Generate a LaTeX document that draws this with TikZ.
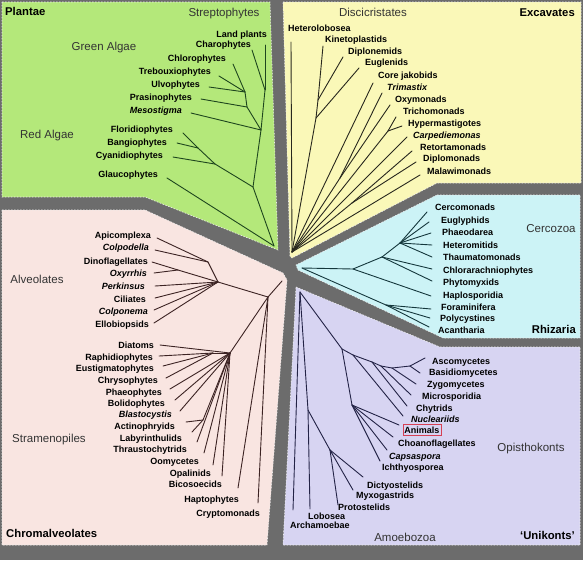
\documentclass[tikz,border=0pt]{standalone}
\usepackage{fontspec}
\setmainfont{Liberation Sans}
\usepackage{tikz}
\usetikzlibrary{positioning}

\definecolor{band}{RGB}{108,108,108}
\definecolor{plantae}{RGB}{180,232,122}
\definecolor{excav}{RGB}{250,248,184}
\definecolor{rhiz}{RGB}{204,243,246}
\definecolor{unik}{RGB}{215,212,242}
\definecolor{chrom}{RGB}{249,229,225}
\definecolor{plantline}{RGB}{30,70,30}
\definecolor{excavline}{RGB}{40,40,30}
\definecolor{rhizline}{RGB}{20,55,60}
\definecolor{unikline}{RGB}{35,35,70}
\definecolor{chromline}{RGB}{60,35,35}
\definecolor{animalred}{RGB}{214,64,84}

\begin{document}
\begin{tikzpicture}[x=1pt, y=-1pt,
	leaf/.style   = {inner sep=0pt, text height=6.5pt, text depth=0pt, font=\fontsize{9}{10}\selectfont\bfseries},
	group/.style  = {inner sep=0pt, text height=8pt, text depth=0pt, text=black!80, font=\fontsize{11.5}{13}\selectfont},
	title/.style  = {inner sep=0pt, text height=8pt, text depth=0pt, font=\fontsize{11.3}{13}\selectfont\bfseries},
	panel/.style  = {draw=white!85!gray, line width=0.6pt, dash pattern=on 1.5pt off 1.5pt},
	branch/.style = {line width=0.9pt, line cap=round, line join=round}]

	% background and the five panels
	\useasboundingbox (0,0) rectangle (583,560);
	\fill[band] (0,0) rectangle (583,560);
	\path[panel, fill=plantae] (2,2) -- (270,2) -- (278,250) -- (145,197) -- (2,197) -- cycle;
	\path[panel, fill=excav] (283,2) -- (581,2) -- (581,183) -- (437,183) -- (292,258) -- (290,256) -- cycle;
	\path[panel, fill=rhiz] (437,195) -- (580,195) -- (580,338) -- (443,338) -- (298,270) -- (296,265) -- cycle;
	\path[panel, fill=unik] (296,287) -- (440,347) -- (580,347) -- (580,545) -- (283,545) -- cycle;
	\path[panel, fill=chrom] (2,210) -- (145,210) -- (283,273) -- (287,280) -- (267,545) -- (2,545) -- cycle;

	% Plantae
	\node[title, anchor=west] (plantae) at (5,11) {Plantae};
	\node[group] (strepto) at (224,12) {Streptophytes};
	\node[group] (greenalgae) at (104,46) {Green Algae};
	\node[group] (redalgae) at (47,134) {Red Algae};
	\foreach \n/\x/\y/\t in {landplants/267/34/Land plants, charo/251/44/Charophytes,
		chloro/226/58/Chlorophytes, trebo/211/71/Trebouxiophytes, ulvo/200/84/Ulvophytes,
		prasino/192/97/Prasinophytes, meso/182/110/\itshape Mesostigma,
		florid/173/129/Floridiophytes, bangio/167/142/Bangiophytes,
		cyanid/163/155/Cyanidiophytes, glauco/158/174/Glaucophytes}
		\node[leaf, anchor=east] (\n) at (\x,\y) {\t};
	\foreach \n/\x/\y in {landplants/265/45, charo/252/50, chloro/233/64, trebo/219/76,
		ulvo/209/87, prasino/201/99, meso/191/113, florid/183/133, bangio/177/143,
		cyanid/173/157, glauco/167/178}
		\coordinate (t\n) at (\x,\y);
	\coordinate (g1) at (265,90);
	\coordinate (g2) at (261,130);
	\coordinate (g3) at (253,187);
	\coordinate (gc1) at (247,107);
	\coordinate (gc2) at (245,92);
	\coordinate (gr1) at (215,164);
	\coordinate (gr2) at (198,148);
	\coordinate (groot) at (274,246);
	\foreach \a/\b in {tlandplants/g1, tcharo/g1, g1/g2, tchloro/gc2, ttrebo/gc2, tulvo/gc2,
		gc2/gc1, tprasino/gc1, gc1/g2, tmeso/g2, g2/g3, tflorid/gr2, tbangio/gr2, gr2/gr1,
		tcyanid/gr1, gr1/g3, g3/groot, tglauco/groot}
		\draw[branch, plantline] (\a) -- (\b);

	% Excavates
	\node[title, anchor=east] (excavates) at (575,12) {Excavates};
	\node[group] (discicrist) at (373,12) {Discicristates};
	\foreach \n/\x/\y/\t in {hetero/288/28/Heterolobosea, kineto/325/39/Kinetoplastids,
		diplon/348/51/Diplonemids, euglen/365/62/Euglenids, jakob/378/75/Core jakobids,
		trimas/387/87/\itshape Trimastix, oxymon/395/99/Oxymonads, tricho/403/111/Trichomonads,
		hyper/408/123/Hypermastigotes, carpe/413/135/\itshape Carpediemonas,
		retort/420/147/Retortamonads, diplom/423/158/Diplomonads, malawi/427/171/Malawimonads}
		\node[leaf, anchor=west] (\n) at (\x,\y) {\t};
	\foreach \n/\x/\y in {hetero/291/42, kineto/323/46, diplon/343/57, euglen/359/68,
		jakob/373/83, trimas/382/93, oxymon/390/105, tricho/396/117, hyper/402/126,
		carpe/407/137, retort/412/151, diplom/416/162, malawi/420/175}
		\coordinate (t\n) at (\x,\y);
	\coordinate (ye1) at (318,100);
	\coordinate (ye2) at (316,118);
	\coordinate (yx1) at (340,178);
	\coordinate (yh) at (388,131);
	\coordinate (yrd) at (352,203);
	\coordinate (yroot) at (292,252);
	\foreach \a/\b in {thetero/yroot, tkineto/ye1, tdiplon/ye1, ye1/ye2, teuglen/ye2, ye2/yroot,
		tjakob/yroot, ttrimas/yx1, toxymon/yx1, yx1/yroot, ttricho/yh, thyper/yh, yh/yroot,
		tcarpe/yroot, tretort/yrd, tdiplom/yrd, yrd/yroot, tmalawi/yroot}
		\draw[branch, excavline] (\a) -- (\b);

	% Rhizaria
	\node[title, anchor=east] (rhizaria) at (576,329) {Rhizaria};
	\node[group] (cercozoa) at (551,228) {Cercozoa};
	\foreach \n/\x/\y/\t in {cercom/435/207/Cercomonads, euglyp/441/220/Euglyphids,
		phaeod/442/232/Phaeodarea, heterom/443/245/Heteromitids, thaum/443/257/Thaumatomonads,
		chlorar/443/270/Chlorarachniophytes, phyto/443/282/Phytomyxids,
		haplo/443/295/Haplosporidia, foram/441/307/Foraminifera, polyc/440/318/Polycystines,
		acanth/438/330/Acantharia}
		\node[leaf, anchor=west] (\n) at (\x,\y) {\t};
	\foreach \n/\x/\y in {cercom/427/212, euglyp/429/222, phaeod/431/233, heterom/432/245,
		thaum/432/257, chlorar/432/269, phyto/432/281, haplo/431/296, foram/431/309,
		polyc/430/318, acanth/429/327}
		\coordinate (t\n) at (\x,\y);
	\coordinate (rroot) at (302,268);
	\coordinate (rh1) at (353,269);
	\coordinate (rh2) at (382,257);
	\coordinate (rh3) at (400,243);
	\coordinate (rh4) at (386,305);
	\foreach \a/\b in {tcercom/rh3, teuglyp/rh3, tphaeod/rh3, theterom/rh3, tthaum/rh3, rh3/rh2,
		tchlorar/rh2, tphyto/rh2, rh2/rh1, thaplo/rh1, rh1/rroot, tforam/rh4, tpolyc/rh4,
		tacanth/rh4, rh4/rroot}
		\draw[branch, rhizline] (\a) -- (\b);

	% Unikonts
	\node[title, anchor=east] (unikonts) at (575,535) {`Unikonts'};
	\node[group] (opistho) at (531,447) {Opisthokonts};
	\node[group] (amoebozoa) at (405,537) {Amoebozoa};
	\foreach \n/\x/\y/\t in {asco/432/361/Ascomycetes, basid/429/372/Basidiomycetes,
		zygo/427/384/Zygomycetes, micro/422/396/Microsporidia, chytr/416/408/Chytrids,
		nucle/411/419/\itshape Nucleariids, choano/398/443/Choanoflagellates,
		capsa/389/456/\itshape Capsaspora, ichthy/382/467/Ichthyosporea,
		dicty/367/485/Dictyostelids, myxo/356/495/Myxogastrids, proto/338/507/Protostelids,
		lobos/308/516/Lobosea, archa/290/525/Archamoebae}
		\node[leaf, anchor=west] (\n) at (\x,\y) {\t};
	\node[leaf, anchor=west, draw=animalred, line width=0.6pt, inner xsep=1.5pt, inner ysep=2.5pt] (animals) at (402.5,430) {Animals};
	\foreach \n/\x/\y in {asco/425/358, basid/420/373, zygo/416/384, micro/411/395,
		chytr/407/406, nucle/403/416, animals/399/425, choano/393/437, capsa/387/450,
		ichthy/380/461, dicty/363/477, myxo/353/490, proto/338/505, lobos/310/509,
		archa/293/510}
		\coordinate (t\n) at (\x,\y);
	\coordinate (u0) at (300,292);
	\coordinate (uo1) at (342,349);
	\coordinate (uh1) at (352,405);
	\coordinate (ufh) at (353,355);
	\coordinate (uf1) at (372,362);
	\coordinate (uf2) at (381,366);
	\coordinate (uf3) at (392,368);
	\coordinate (uf4) at (410,366);
	\coordinate (ua1) at (308,410);
	\coordinate (ua2) at (330,450);
	\foreach \a/\b in {tarcha/u0, u0/ua1, ua1/tlobos, ua1/ua2, ua2/tproto, ua2/tmyxo, ua2/tdicty,
		u0/uo1, uo1/uh1, uh1/tanimals, uh1/tchoano, uh1/tcapsa, uh1/tichthy, uo1/ufh,
		ufh/tnucle, ufh/uf1, uf1/tchytr, uf1/uf2, uf2/tmicro, uf2/uf3, uf3/tzygo, uf3/uf4,
		uf4/tbasid, uf4/tasco}
		\draw[branch, unikline] (\a) -- (\b);

	% Chromalveolates
	\node[title, anchor=west] (chromalv) at (6,533) {Chromalveolates};
	\node[group] (alveolates) at (37,279) {Alveolates};
	\node[group] (stramenop) at (49,438) {Stramenopiles};
	\foreach \n/\x/\y/\t in {apico/151/235/Apicomplexa, colpod/149/247/\itshape Colpodella,
		dino/148/261/Dinoflagellates, oxyrr/147/273/\itshape Oxyrrhis,
		perkin/145/286/\itshape Perkinsus, cilia/146/299/Ciliates,
		colpon/148/311/\itshape Colponema, ellob/149/324/Ellobiopsids,
		diatom/154/345/Diatoms, raphid/153/357/Raphidiophytes, eustig/154/368/Eustigmatophytes,
		chryso/158/380/Chrysophytes, phaeo/162/392/Phaeophytes, bolido/165/403/Bolidophytes,
		blasto/172/414/\itshape Blastocystis, actino/175/426/Actinophryids,
		labyr/182/438/Labyrinthulids, thraus/187/449/Thraustochytrids, oomyc/199/461/Oomycetes,
		opalin/211/473/Opalinids, bicos/222/484/Bicosoecids, hapto/239/499/Haptophytes,
		crypto/260/513/Cryptomonads}
		\node[leaf, anchor=east] (\n) at (\x,\y) {\t};
	\foreach \n/\x/\y in {apico/157/238, colpod/155/250, dino/152/262, oxyrr/154/273,
		perkin/155/286, cilia/155/298, colpon/154/310, ellob/154/323, diatom/160/345,
		raphid/159/356, eustig/163/366, chryso/166/378, phaeo/170/389, bolido/175/400,
		blasto/180/411, actino/186/422, labyr/192/432, thraus/197/442, oomyc/204/453,
		opalin/213/465, bicos/222/476, hapto/238/488, crypto/258/503}
		\coordinate (t\n) at (\x,\y);
	\coordinate (p0) at (282,281);
	\coordinate (p1) at (268,297);
	\coordinate (al1) at (218,282);
	\coordinate (al2) at (208,262);
	\coordinate (pd1) at (178,270);
	\coordinate (s1) at (230,353);
	\coordinate (s2) at (213,353);
	\coordinate (s3) at (203,420);
	\foreach \a/\b in {p0/p1, p1/al1, al1/al2, al2/tapico, al2/tcolpod, al1/pd1, pd1/tdino,
		pd1/toxyrr, al1/tperkin, al1/tcilia, al1/tcolpon, al1/tellob, p1/s1, s1/tdiatom, s1/s2,
		s2/traphid, s2/teustig, s2/tchryso, s1/tphaeo, s1/tbolido, s1/tblasto, s1/s3,
		s3/tactino, s3/tlabyr, s1/tthraus, s1/toomyc, s1/topalin, s1/tbicos, p1/thapto,
		p1/tcrypto}
		\draw[branch, chromline] (\a) -- (\b);

\end{tikzpicture}
\end{document}
